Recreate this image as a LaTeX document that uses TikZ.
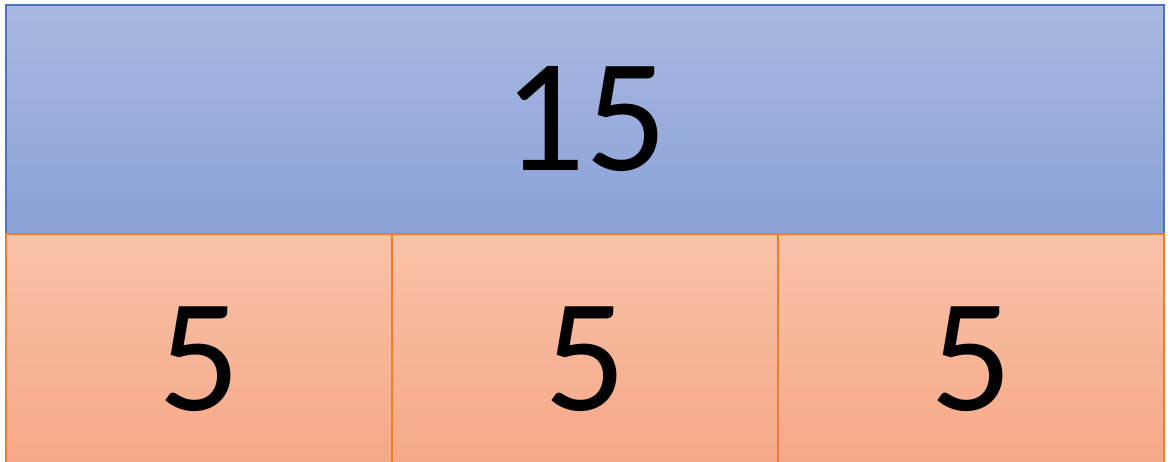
\documentclass[tikz,border=0pt]{standalone}
\usepackage{fontspec}
\setmainfont{Carlito}
\usepackage{xcolor}
\usetikzlibrary{positioning}
\definecolor{bluetop}{HTML}{A9B8E1}
\definecolor{bluebot}{HTML}{8AA1D7}
\definecolor{blueline}{HTML}{4A72C2}
\definecolor{orgtop}{HTML}{F8C2A8}
\definecolor{orgbot}{HTML}{F6A685}
\definecolor{orgline}{HTML}{ED7D31}

\begin{document}
\begin{tikzpicture}[every node/.style={font=\fontsize{46}{46}\selectfont, outer sep=0pt, inner sep=0pt}, whole/.style={draw=blueline,line width=0.6pt,top color=bluetop,bottom color=bluebot,minimum width=11.58cm,minimum height=2.29cm}, part/.style={draw=orgline,line width=0.6pt,top color=orgtop,bottom color=orgbot,minimum width=3.86cm,minimum height=2.50cm}]
\useasboundingbox (0,0) rectangle (11.70,4.61);
\node[whole] (total) at (5.85,3.415) {15};
\node[part,anchor=north west] (p1) at (total.south west) {5};
\node[part,right=0pt of p1] (p2) {5};
\node[part,right=0pt of p2] (p3) {5};
\end{tikzpicture}
\end{document}
